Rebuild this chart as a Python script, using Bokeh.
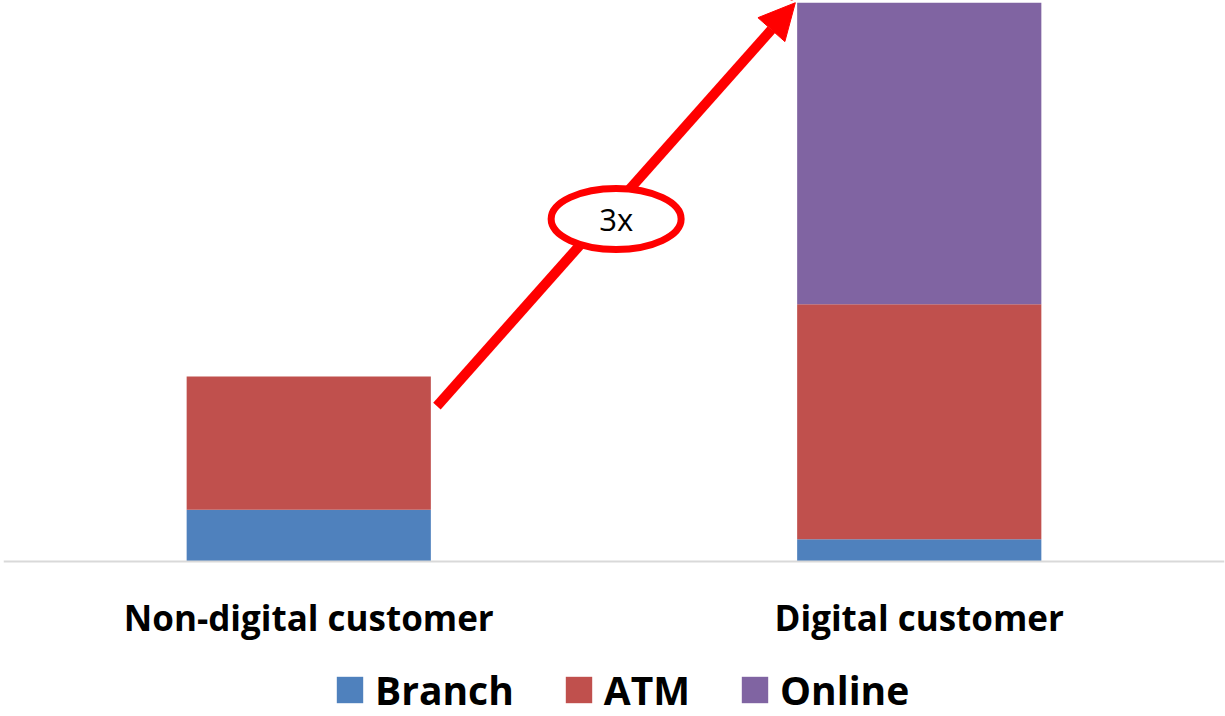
from bokeh.plotting import figure
from bokeh.models import FactorRange, Range1d, Legend, LegendItem, Arrow, NormalHead, ColumnDataSource, Span
from bokeh.core.properties import value
from bokeh.embed import file_html
from bokeh.resources import INLINE

categories = ["Non-digital customer", "Digital customer"]
series = ["Branch", "ATM", "Online"]
branch = [0.28, 0.12]
atm = [0.72, 1.27]
online = [0.0, 1.63]
colors = ["#4F81BD", "#C0504D", "#8064A2"]
multiplier_label = "3x"

FONT = "Open Sans"

source = ColumnDataSource(dict(cat=categories, Branch=branch, ATM=atm, Online=online))

totals = [b + a + o for b, a, o in zip(branch, atm, online)]
top = max(totals) * 1.004
bottom = -top * 155.0 / 561.0

p = figure(x_range=FactorRange(factors=categories, range_padding=0),
           y_range=Range1d(bottom, top),
           width=1225, height=716, output_backend="svg", toolbar_location=None,
           min_border_left=3, min_border_right=1, min_border_top=0, min_border_bottom=0)

rs = p.vbar_stack(series, x="cat", width=0.4, color=colors, source=source, line_width=0)

p.xaxis.visible = False
p.yaxis.visible = False
p.xgrid.visible = False
p.ygrid.visible = False
p.outline_line_color = None
p.background_fill_color = "white"
p.border_fill_color = "white"

# category axis line and labels
p.add_layout(Span(location=0, dimension="width", line_color="#D9D9D9", line_width=2))
lab_y = [top * -0.1] * len(categories)
p.text(x=categories, y=lab_y, text=categories, text_font=value(FONT), text_font_style="bold",
       text_font_size="35px", text_align="center", text_baseline="middle", text_color="black")

legend = Legend(items=[LegendItem(label=s, renderers=[r]) for s, r in zip(series, rs)],
                orientation="horizontal", location=(330, 0),
                label_text_font=FONT, label_text_font_style="bold",
                label_text_font_size="39px", label_text_color="black",
                glyph_width=33, glyph_height=33, label_standoff=9, spacing=48,
                border_line_color=None, background_fill_alpha=0, margin=0, padding=0)
p.add_layout(legend)

# growth arrow from top-right of first bar to top-left of second bar
half = 0.2
x0 = 0.5 + half + 0.01
y0 = totals[0] * 0.84
x1 = 1.5 - half - 0.003
y1 = totals[1]
arrow = Arrow(end=NormalHead(size=36, fill_color="#FF0000", line_color="#FF0000", line_width=1),
              x_start=x0, y_start=y0, x_end=x1, y_end=y1,
              line_color="#FF0000", line_width=10)
p.add_layout(arrow)

ex = (x0 + x1) / 2
ey = totals[1] * 0.613
e = p.ellipse(x=[ex], y=[ey], width=130, height=61, width_units="screen", height_units="screen",
              fill_color="white", line_color="#FF0000", line_width=7)
e.level = "overlay"
t = p.text(x=[ex], y=[ey], text=[multiplier_label], text_font=value(FONT), text_font_size="31px",
           text_align="center", text_baseline="middle", text_color="black")
t.level = "overlay"

open("out.html", "w").write(file_html(p, INLINE))
